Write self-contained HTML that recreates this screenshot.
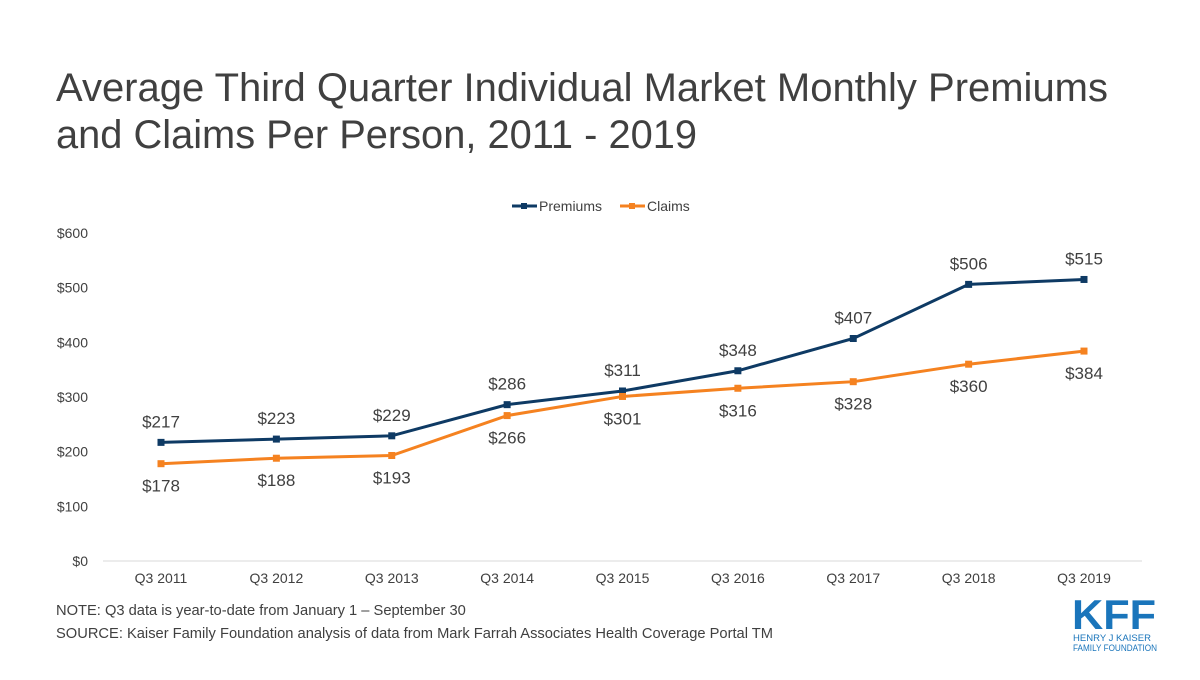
<!DOCTYPE html>
<html><head><meta charset="utf-8"><style>
body{margin:0;background:#fff;width:1200px;height:675px;overflow:hidden;font-family:"Liberation Sans",Arial,sans-serif;}
</style></head><body>
<svg id="c" width="1200" height="675" xmlns="http://www.w3.org/2000/svg" font-family="Liberation Sans, Arial, sans-serif">
<text x="56" y="101" font-size="40" fill="#404040" textLength="1052" lengthAdjust="spacingAndGlyphs">Average Third Quarter Individual Market Monthly Premiums</text>
<text x="56" y="148" font-size="40" fill="#404040" textLength="641" lengthAdjust="spacingAndGlyphs">and Claims Per Person, 2011 - 2019</text>
<g>
<g><line x1="512" y1="206" x2="537" y2="206" stroke="#0e3a64" stroke-width="3"/><rect x="521" y="203" width="6" height="6" fill="#0e3a64"/><text x="539" y="211" font-size="14" fill="#404040">Premiums</text></g>
<g><line x1="620" y1="206" x2="645" y2="206" stroke="#f58220" stroke-width="3"/><rect x="629" y="203" width="6" height="6" fill="#f58220"/><text x="647" y="211" font-size="14" fill="#404040">Claims</text></g>
</g>
<g id="axes"></g><g id="marks"></g>
<text x="56" y="615" font-size="14.7" fill="#404040">NOTE: Q3 data is year-to-date from January 1 – September 30</text>
<text x="56" y="638" font-size="14.7" fill="#404040" textLength="717" lengthAdjust="spacingAndGlyphs">SOURCE: Kaiser Family Foundation analysis of data from Mark Farrah Associates Health Coverage Portal TM</text>
<g>
<text x="1072" y="629" font-size="42" font-weight="bold" fill="#1a75bb" textLength="84" lengthAdjust="spacingAndGlyphs">KFF</text>
<text x="1073" y="641" font-size="9" fill="#1a75bb" textLength="78" lengthAdjust="spacingAndGlyphs">HENRY J KAISER</text>
<text x="1073" y="651" font-size="9" fill="#1a75bb" textLength="84" lengthAdjust="spacingAndGlyphs">FAMILY FOUNDATION</text>
</g>
</svg>
<script>
const categories=["Q3 2011","Q3 2012","Q3 2013","Q3 2014","Q3 2015","Q3 2016","Q3 2017","Q3 2018","Q3 2019"];
const premiums=[217,223,229,286,311,348,407,506,515];
const claims=[178,188,193,266,301,316,328,360,384];
const yTicks=[0,100,200,300,400,500,600];
const NS="http://www.w3.org/2000/svg";
const x=i=>161+i*(1084-161)/(categories.length-1);
const y=v=>561-v*(328/600);
function mk(tag,attrs,parent,txt){const e=document.createElementNS(NS,tag);for(const k in attrs)e.setAttribute(k,attrs[k]);if(txt!==undefined)e.textContent=txt;parent.appendChild(e);return e;}
const ax=document.getElementById('axes'),mg=document.getElementById('marks');
const base=mk('line',{x1:103,x2:1142,y1:y(0),y2:y(0),stroke:'#d9d9d9','stroke-width':1},ax);


yTicks.forEach(t=>{const e=mk('text',{x:88,y:y(t)+5,'font-size':14,fill:'#404040','text-anchor':'end'},ax,'$'+t);

});
categories.forEach((c,i)=>{const e=mk('text',{x:x(i),y:583,'font-size':14,fill:'#404040','text-anchor':'middle'},ax,c);

});
function series(vals,color,name,above){
const p=mk('polyline',{points:vals.map((v,i)=>x(i)+','+y(v)).join(' '),fill:'none',stroke:color,'stroke-width':3},mg);


vals.forEach((v,i)=>{const r=mk('rect',{x:x(i)-3.5,y:y(v)-3.5,width:7,height:7,fill:color},mg);


const t=mk('text',{x:x(i),y:above?y(v)-15:y(v)+28,'font-size':17,fill:'#404040','text-anchor':'middle'},mg,'$'+v);

});}
series(premiums,'#0e3a64','premiums',true);
series(claims,'#f58220','claims',false);
</script>
</body></html>
